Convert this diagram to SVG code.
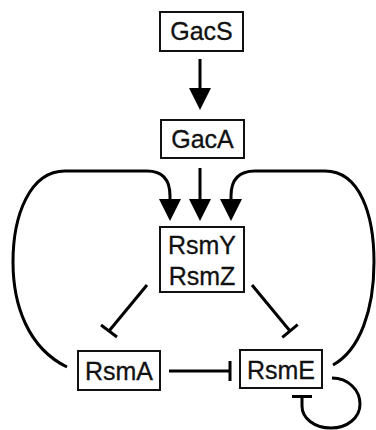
<svg xmlns="http://www.w3.org/2000/svg" width="376" height="430" viewBox="0 0 376 430">
<style>
.box{fill:#fff;stroke:#111;stroke-width:2}
.lbl{font-family:"Liberation Sans",Arial,sans-serif;font-size:25px;fill:#111;stroke:#111;stroke-width:0.3;text-anchor:middle}
.edge{fill:none;stroke:#000;stroke-width:3}
</style>
<defs>
<marker id="arr" viewBox="0 0 22 22" refX="12" refY="11" markerWidth="22" markerHeight="23" markerUnits="userSpaceOnUse" orient="auto">
<path d="M0,0 L22,11 L0,22 Z" fill="#000"/>
</marker>
</defs>
<rect width="376" height="430" fill="#fff"/>
<g id="connectors">
<line class="edge" x1="200" y1="59" x2="200" y2="100" marker-end="url(#arr)"/>
<line class="edge" x1="200" y1="168" x2="200" y2="211" marker-end="url(#arr)"/>
<path class="edge" d="M67,367 C28,348 13,305 13,262 C13,215 30,171 65,171 L147,171 Q170,171 170,196 L170,211" marker-end="url(#arr)"/>
<path class="edge" d="M333,365 C360,350 374,310 374,262 C374,215 360,171 325,171 L255,171 Q231,171 231,196 L231,211" marker-end="url(#arr)"/>
<line class="edge" x1="147" y1="285" x2="109" y2="331"/>
<line class="edge" x1="101" y1="325" x2="117" y2="337"/>
<line class="edge" x1="252" y1="285" x2="290" y2="331"/>
<line class="edge" x1="282.3" y1="337.4" x2="297.7" y2="324.6"/>
<line class="edge" x1="169" y1="371" x2="230" y2="371"/>
<line class="edge" x1="230" y1="361" x2="230" y2="381"/>
<path class="edge" d="M332,378 C348,378 360,390 360,404 C360,418 347,428 331,428 C314,428 302,418 302,406 L302,397"/>
<line class="edge" x1="292" y1="396.5" x2="312" y2="396.5"/>
</g>
<g id="GacS"><rect class="box" x="160" y="12" width="83" height="39"/><text class="lbl" x="201.5" y="40">GacS</text></g>
<g id="GacA"><rect class="box" x="161" y="120" width="83" height="38"/><text class="lbl" x="202.5" y="147.5">GacA</text></g>
<g id="RsmYZ"><rect class="box" x="160" y="227" width="84" height="65"/><text class="lbl" x="202" y="254">RsmY</text><text class="lbl" x="202" y="284.5">RsmZ</text></g>
<g id="RsmA"><rect class="box" x="78" y="351" width="82" height="39"/><text class="lbl" x="119" y="379.5">RsmA</text></g>
<g id="RsmE"><rect class="box" x="240" y="350" width="82" height="38"/><text class="lbl" x="281" y="378.5">RsmE</text></g>
</svg>
